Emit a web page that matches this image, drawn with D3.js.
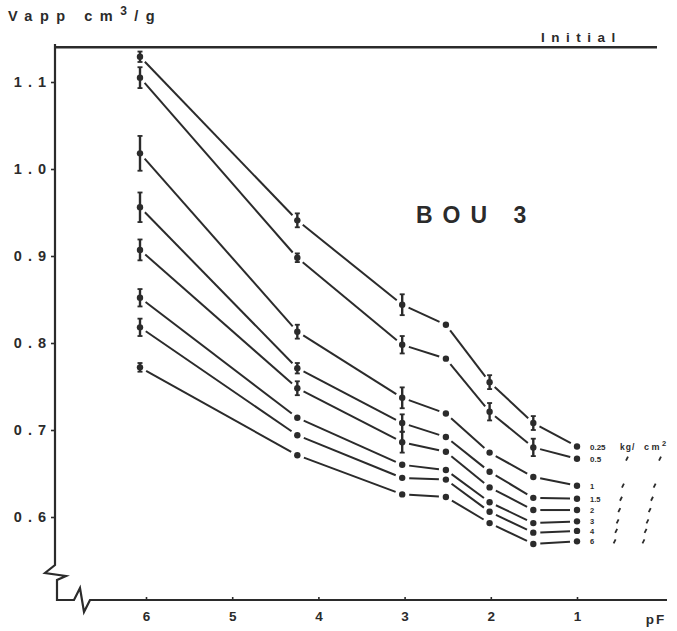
<!DOCTYPE html>
<html><head><meta charset="utf-8">
<script src="https://cdn.jsdelivr.net/npm/d3@7"></script>
<style>
body{margin:0;background:#fff;}
svg{display:block;font-family:"Liberation Sans",Arial,sans-serif;}
</style></head>
<body><svg id="c" width="677" height="631"></svg>
<script>
// ---- data ----
const pF = [6, 4.2, 3, 2.5, 2, 1.5, 1];
const loads = ["0.25", "0.5", "1", "1.5", "2", "3", "4", "6"];
const s025 = [1.129, 0.941, 0.844, 0.821, 0.755, 0.708, 0.681];
const s05  = [1.105, 0.898, 0.798, 0.782, 0.721, 0.680, 0.667];
const s1   = [1.018, 0.813, 0.737, 0.719, 0.674, 0.646, 0.636];
const s15  = [0.956, 0.771, 0.708, 0.692, 0.652, 0.622, 0.621];
const s2   = [0.907, 0.748, 0.686, 0.675, 0.634, 0.608, 0.608];
const s3   = [0.852, 0.714, 0.660, 0.654, 0.617, 0.593, 0.595];
const s4   = [0.818, 0.694, 0.645, 0.643, 0.606, 0.582, 0.584];
const s6   = [0.772, 0.671, 0.626, 0.623, 0.593, 0.569, 0.572];
// error half-ranges
const e025 = [0.006, 0.008, 0.012, 0, 0.008, 0.008, 0];
const e05  = [0.012, 0.005, 0.010, 0, 0.010, 0.010, 0];
const e1   = [0.020, 0.008, 0.012, 0, 0, 0, 0];
const e15  = [0.017, 0.006, 0.010, 0, 0, 0, 0];
const e2   = [0.012, 0.008, 0.012, 0, 0, 0, 0];
const e3   = [0.010, 0, 0, 0, 0, 0, 0];
const e4   = [0.010, 0, 0, 0, 0, 0, 0];
const e6   = [0.005, 0, 0, 0, 0, 0, 0];
const initialValue = 1.14;
const yTicks = [1.1, 1.0, 0.9, 0.8, 0.7, 0.6];
const xTicks = [6, 5, 4, 3, 2, 1];

const series = [s025, s05, s1, s15, s2, s3, s4, s6];
const errors = [e025, e05, e1, e15, e2, e3, e4, e6];

const ink = "#2b2b2b";
const svg = d3.select("#c");
const x = d3.scaleLinear().domain([6, 1]).range([140, 577]);
const xLab = d3.scaleLinear().domain([6, 1]).range([146, 577]);
const y = d3.scaleLinear().domain([0.6, 1.1]).range([517, 82]);
const axX = 55, axY = 600;

// axis lines with breaks
svg.append("path")
  .attr("d", `M${axX},44 L${axX},565 L45,573 L66,576 L57,580 L57,${axY} L74,${axY} L80,588 L84,612 L90,${axY} L667,${axY}`)
  .attr("fill", "none").attr("stroke", ink).attr("stroke-width", 2.2).attr("stroke-linejoin", "miter");

// y axis
const gy = svg.append("g").attr("transform", `translate(${axX},0)`)
  .call(d3.axisLeft(y).tickValues(yTicks).tickSize(4).tickPadding(5).tickFormat(d3.format(".1f")));
gy.select(".domain").remove();
gy.selectAll("line").attr("stroke", ink).attr("stroke-width", 1.6);
gy.selectAll("text").attr("fill", ink).attr("font-size", 14.5).attr("font-weight", "bold")
  .style("letter-spacing", "6px").attr("dx", 6);

// x axis
const gx = svg.append("g").attr("transform", `translate(0,${axY})`)
  .call(d3.axisBottom(xLab).tickValues(xTicks).tickSizeInner(-3).tickSizeOuter(0).tickPadding(11).tickFormat(d3.format("d")));
gx.select(".domain").remove();
gx.selectAll("line").attr("stroke", ink).attr("stroke-width", 1.6);
gx.selectAll("text").attr("fill", ink).attr("font-size", 13.5).attr("font-weight", "bold");
svg.append("text").attr("x", 656).attr("y", 624).attr("text-anchor", "middle")
  .attr("fill", ink).attr("font-size", 13.5).attr("font-weight", "bold").style("letter-spacing", "2px").text("pF");

// axis title
const t = svg.append("text").attr("x", 8).attr("y", 21).attr("fill", ink)
  .attr("font-size", 14.5).attr("font-weight", "bold").style("letter-spacing", "7.5px");
t.append("tspan").text("Vapp cm");
t.append("tspan").attr("dy", -6).attr("font-size", 12).text("3");
t.append("tspan").attr("dy", 6).text("/g");

// initial line
svg.append("line").attr("x1", axX).attr("x2", 657).attr("y1", y(initialValue)).attr("y2", y(initialValue))
  .attr("stroke", ink).attr("stroke-width", 2.6);
svg.append("text").attr("x", 541).attr("y", 42).attr("fill", ink).attr("font-size", 13.5)
  .attr("font-weight", "bold").style("letter-spacing", "6.5px").text("Initial");

// title
svg.append("text").attr("x", 416).attr("y", 223).attr("fill", ink).attr("font-size", 23)
  .attr("font-weight", "bold").style("letter-spacing", "10px").text("BOU 3");

// series lines with gaps
const gap = 7;
series.forEach((s, si) => {
  const pts = s.map((v, i) => [x(pF[i]), y(v)]);
  for (let i = 0; i < pts.length - 1; i++) {
    const [x0, y0] = pts[i], [x1, y1] = pts[i + 1];
    const L = Math.hypot(x1 - x0, y1 - y0);
    const ux = (x1 - x0) / L, uy = (y1 - y0) / L;
    svg.append("line")
      .attr("x1", x0 + ux * gap).attr("y1", y0 + uy * gap)
      .attr("x2", x1 - ux * gap).attr("y2", y1 - uy * gap)
      .attr("stroke", ink).attr("stroke-width", 2);
  }
  const g = svg.append("g");
  s.forEach((v, i) => {
    const e = errors[si][i];
    const cx = x(pF[i]);
    if (e > 0) {
      g.append("line").attr("x1", cx).attr("x2", cx).attr("y1", y(v - e)).attr("y2", y(v + e))
        .attr("stroke", ink).attr("stroke-width", 2.4);
      [v - e, v + e].forEach(b => g.append("line").attr("x1", cx - 2.5).attr("x2", cx + 2.5)
        .attr("y1", y(b)).attr("y2", y(b)).attr("stroke", ink).attr("stroke-width", 1.8));
    }
    g.append("circle").attr("cx", cx).attr("cy", y(v)).attr("r", 3.2).attr("fill", ink);
  });
});

// load labels at right end
const lastIdx = pF.length - 1;
series.forEach((s, si) => {
  const yy = y(s[lastIdx]);
  svg.append("text").attr("x", 590).attr("y", yy + 3).attr("fill", ink)
    .attr("font-size", si < 2 ? 8 : 7.5).attr("font-weight", "bold").text(loads[si]);
  if (si === 0) {
    svg.append("text").attr("x", 620).attr("y", yy + 3).attr("fill", ink)
      .attr("font-size", 8.5).attr("font-weight", "bold").style("letter-spacing", "1px").text("kg/");
    const u = svg.append("text").attr("x", 644).attr("y", yy + 3).attr("fill", ink)
      .attr("font-size", 9).attr("font-weight", "bold").style("letter-spacing", "2.5px");
    u.append("tspan").text("cm");
    u.append("tspan").attr("dy", -4).attr("font-size", 7.5).text("2");
  } else {
    [627, 660].forEach((cx0, k) => {
      const shift = (yy - y(s05[lastIdx])) * (k === 0 ? 0.15 : 0.2);
      const cx = cx0 - shift;
      svg.append("line").attr("x1", cx - 1).attr("y1", yy + 2).attr("x2", cx + 1).attr("y2", yy - 2)
        .attr("stroke", ink).attr("stroke-width", 1.8);
    });
  }
});
</script></body></html>
